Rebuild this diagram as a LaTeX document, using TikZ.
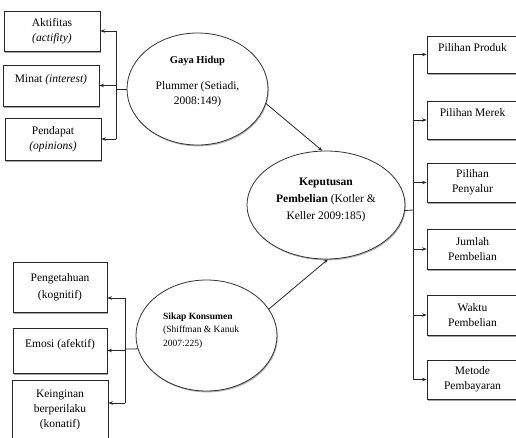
\documentclass[tikz,border=0pt]{standalone}
\usepackage{fontspec}
\setmainfont{Liberation Serif}
\usetikzlibrary{shapes.geometric, arrows.meta, shadows}

\begin{document}
\begin{tikzpicture}[x=1pt, y=-1pt,
  kotak/.style={draw=black!85, line width=0.8pt, fill=white, align=center, inner sep=2pt, font=\fontsize{11.5}{15}\selectfont, drop shadow={shadow xshift=1.2pt, shadow yshift=-1.6pt, fill=black!50, opacity=0.7}},
  atas/.style={text depth=14pt},
  bulat/.style={ellipse, draw=black!80, line width=0.8pt, fill=white, inner sep=0pt, drop shadow={shadow xshift=0.8pt, shadow yshift=-1.4pt, fill=black!50, opacity=0.6}},
  teks/.style={align=center, inner sep=0pt, font=\fontsize{11.5}{15}\selectfont},
  garis/.style={line width=0.8pt, draw=black!85},
  panah/.style={garis, -{Stealth[length=4.5pt, width=3.5pt]}}
]
  \useasboundingbox (0,0) rectangle (516,438);

  \node[kotak, minimum width=96pt, minimum height=40pt] (aktif) at (52,31) {Aktifitas\\ \textit{(actifity)}};
  \node[kotak, atas, minimum width=96pt, minimum height=41pt] (minat) at (51,85.5) {Minat \textit{(interest)}};
  \node[kotak, minimum width=96pt, minimum height=42pt] (pendapat) at (53,139) {Pendapat\\ \textit{(opinions)}};

  \node[bulat, minimum width=141pt, minimum height=112pt] (gaya) at (197.5,89) {};
  \node[teks] (gayateks) at ([yshift=7pt]gaya.center) {\fontsize{10.5}{15}\selectfont\textbf{Gaya Hidup}\\[11pt] Plummer (Setiadi,\\ 2008:149)};

  \node[bulat, minimum width=158pt, minimum height=108pt] (keputusan) at (326,205) {};
  \node[teks] (keputusanteks) at ([yshift=5pt]keputusan.center) {\textbf{Keputusan}\\[2pt] \textbf{Pembelian} (Kotler \&\\[2pt] Keller 2009:185)};

  \node[bulat, minimum width=141pt, minimum height=111pt] (sikap) at (206.5,335.5) {};
  \node[anchor=west, align=left, inner sep=0pt, font=\fontsize{9.5}{13.5}\selectfont] (sikapteks) at (163,330.5) {\textbf{Sikap Konsumen}\\ (Shiffman \& Kanuk\\ 2007:225)};

  \node[kotak, minimum width=94pt, minimum height=50pt] (kognitif) at (60,287) {Pengetahuan\\[2pt] (kognitif)};
  \node[kotak, atas, minimum width=94pt, minimum height=45pt] (afektif) at (60,350.5) {Emosi (afektif)};
  \node[kotak, minimum width=96pt, minimum height=60pt] (konatif) at (60,410) {Keinginan\\ berperilaku\\ (konatif)};

  \node[kotak, atas, minimum width=91pt, minimum height=37pt] (produk) at (472.5,54.5) {Pilihan Produk};
  \node[kotak, atas, minimum width=91pt, minimum height=38pt] (merek) at (472.5,120) {Pilihan Merek};
  \node[kotak, minimum width=91pt, minimum height=39pt] (penyalur) at (472.5,182.5) {Pilihan\\ Penyalur};
  \node[kotak, minimum width=91pt, minimum height=40pt] (jumlah) at (472.5,249) {Jumlah\\ Pembelian};
  \node[kotak, minimum width=91pt, minimum height=40pt] (waktu) at (472.5,315) {Waktu\\ Pembelian};
  \node[kotak, minimum width=91pt, minimum height=39pt] (metode) at (472.5,379.5) {Metode\\ Pembayaran};

  \coordinate (gbus) at (116,89);
  \coordinate (sbus) at (125,349);
  \coordinate (kbus) at (413,210);
  \coordinate (kognitifin) at ([yshift=-11pt]kognitif.east);
  \coordinate (konatifin) at ([yshift=7pt]konatif.east);

  \draw[garis] (gaya.west) -- (gbus);
  \draw[garis] (gbus |- aktif.east) -- (gbus |- pendapat.east);
  \draw[panah] (gbus |- aktif.east) -- (aktif.east);
  \draw[panah] (gbus |- minat.east) -- (minat.east);
  \draw[panah] (gbus |- pendapat.east) -- (pendapat.east);

  \draw[garis] (sikap.191) -- (sbus);
  \draw[garis] (sbus |- kognitifin) -- (sbus |- konatifin);
  \draw[panah] (sbus |- kognitifin) -- (kognitifin);
  \draw[panah] (sbus |- afektif.east) -- (afektif.east);
  \draw[panah] (sbus |- konatifin) -- (konatifin);

  \draw[panah] (gaya.-12) -- (keputusan.94);
  \draw[panah] (sikap.23) -- (keputusan.-88);

  \draw[garis] (keputusan.-4) -- (kbus);
  \draw[garis] (kbus |- produk.west) -- (kbus |- metode.west);
  \foreach \n in {produk, merek, penyalur, jumlah, waktu, metode}
    \draw[panah] (kbus |- \n.west) -- (\n.west);
\end{tikzpicture}
\end{document}
